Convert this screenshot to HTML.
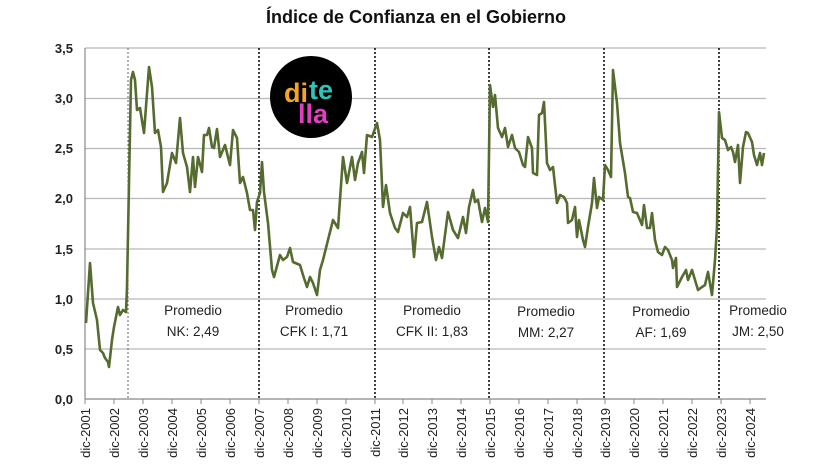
<!DOCTYPE html>
<html><head><meta charset="utf-8"><style>
html,body{margin:0;padding:0;background:#fff;}
svg{display:block;font-family:"Liberation Sans",sans-serif;}
</style></head><body>
<svg width="832" height="468" viewBox="0 0 832 468">
<text x="416" y="23" text-anchor="middle" font-size="18" font-weight="bold" fill="#111">Índice de Confianza en el Gobierno</text>
<g stroke="#b8b8b8" stroke-width="1.2">
<line x1="85" y1="48" x2="766" y2="48"/><line x1="85" y1="98.5" x2="766" y2="98.5"/>
<line x1="85" y1="148.5" x2="766" y2="148.5"/><line x1="85" y1="198.5" x2="766" y2="198.5"/>
<line x1="85" y1="249" x2="766" y2="249"/><line x1="85" y1="299" x2="766" y2="299"/>
<line x1="85" y1="349" x2="766" y2="349"/>
</g>
<g stroke="#888" stroke-width="1.2">
<line x1="85" y1="399" x2="766" y2="399"/><line x1="85" y1="48" x2="85" y2="399"/>
</g>
<g stroke="#888" stroke-width="1">
<line x1="85" y1="399" x2="85" y2="404"/><line x1="114" y1="399" x2="114" y2="404"/><line x1="143" y1="399" x2="143" y2="404"/><line x1="172" y1="399" x2="172" y2="404"/><line x1="201" y1="399" x2="201" y2="404"/><line x1="230" y1="399" x2="230" y2="404"/><line x1="259" y1="399" x2="259" y2="404"/><line x1="288" y1="399" x2="288" y2="404"/><line x1="317" y1="399" x2="317" y2="404"/><line x1="346" y1="399" x2="346" y2="404"/><line x1="375" y1="399" x2="375" y2="404"/><line x1="403" y1="399" x2="403" y2="404"/><line x1="432" y1="399" x2="432" y2="404"/><line x1="461" y1="399" x2="461" y2="404"/><line x1="490" y1="399" x2="490" y2="404"/><line x1="519" y1="399" x2="519" y2="404"/><line x1="548" y1="399" x2="548" y2="404"/><line x1="577" y1="399" x2="577" y2="404"/><line x1="605" y1="399" x2="605" y2="404"/><line x1="634" y1="399" x2="634" y2="404"/><line x1="663" y1="399" x2="663" y2="404"/><line x1="692" y1="399" x2="692" y2="404"/><line x1="721" y1="399" x2="721" y2="404"/><line x1="750" y1="399" x2="750" y2="404"/>
</g>
<g stroke-dasharray="2,2" fill="none">
<line x1="128" y1="48" x2="128" y2="399" stroke="#666" stroke-width="1"/>
<line x1="259" y1="48" x2="259" y2="399" stroke="#111" stroke-width="1.6"/>
<line x1="375" y1="48" x2="375" y2="399" stroke="#111" stroke-width="1.6"/>
<line x1="489" y1="48" x2="489" y2="399" stroke="#111" stroke-width="1.6"/>
<line x1="604" y1="48" x2="604" y2="399" stroke="#111" stroke-width="1.6"/>
<line x1="719" y1="48" x2="719" y2="399" stroke="#111" stroke-width="1.6"/>
</g>
<g font-size="13" font-weight="bold" fill="#222" text-anchor="end">
<text x="73" y="53">3,5</text><text x="73" y="103">3,0</text><text x="73" y="153">2,5</text><text x="73" y="203">2,0</text><text x="73" y="254">1,5</text><text x="73" y="304">1,0</text><text x="73" y="354">0,5</text><text x="73" y="404">0,0</text>
</g>
<g font-size="13" fill="#222" text-anchor="end">
<text transform="translate(90,408) rotate(-90)">dic-2001</text><text transform="translate(119,408) rotate(-90)">dic-2002</text><text transform="translate(148,408) rotate(-90)">dic-2003</text><text transform="translate(177,408) rotate(-90)">dic-2004</text><text transform="translate(206,408) rotate(-90)">dic-2005</text><text transform="translate(235,408) rotate(-90)">dic-2006</text><text transform="translate(264,408) rotate(-90)">dic-2007</text><text transform="translate(293,408) rotate(-90)">dic-2008</text><text transform="translate(322,408) rotate(-90)">dic-2009</text><text transform="translate(351,408) rotate(-90)">dic-2010</text><text transform="translate(380,408) rotate(-90)">dic-2011</text><text transform="translate(408,408) rotate(-90)">dic-2012</text><text transform="translate(437,408) rotate(-90)">dic-2013</text><text transform="translate(466,408) rotate(-90)">dic-2014</text><text transform="translate(495,408) rotate(-90)">dic-2015</text><text transform="translate(524,408) rotate(-90)">dic-2016</text><text transform="translate(553,408) rotate(-90)">dic-2017</text><text transform="translate(582,408) rotate(-90)">dic-2018</text><text transform="translate(610,408) rotate(-90)">dic-2019</text><text transform="translate(639,408) rotate(-90)">dic-2020</text><text transform="translate(668,408) rotate(-90)">dic-2021</text><text transform="translate(697,408) rotate(-90)">dic-2022</text><text transform="translate(726,408) rotate(-90)">dic-2023</text><text transform="translate(755,408) rotate(-90)">dic-2024</text>
</g>
<g font-size="13.5" fill="#222" text-anchor="middle">
<text x="193" y="315">Promedio</text><text x="193" y="336">NK: 2,49</text>
<text x="314" y="315">Promedio</text><text x="314" y="336">CFK I: 1,71</text>
<text x="432" y="315">Promedio</text><text x="432" y="336">CFK II: 1,83</text>
<text x="546" y="316">Promedio</text><text x="546" y="337">MM: 2,27</text>
<text x="661" y="316">Promedio</text><text x="661" y="337">AF: 1,69</text>
<text x="758" y="315">Promedio</text><text x="758" y="336">JM: 2,50</text>
</g>
<circle cx="311" cy="97" r="41" fill="#000"/>
<text x="284" y="102" font-size="27" font-weight="bold" fill="#f4a623">di</text>
<text x="309" y="99" font-size="27" font-weight="bold" fill="#2ec4b6">te</text>
<text x="298" y="123" font-size="27" font-weight="bold" fill="#e040c0">lla</text>
<polyline fill="none" stroke="#556b2f" stroke-width="2.6" stroke-linejoin="round" points="86,323 90,263 93,303 97,320 100,350 103,353 105,358 108,362 109,367 112,340 114,327 118,307 120,315 123,310 126,312 127,287 129,183 131,80 133,72 135,80 137,110 140,108 144,133 149,67 152,87 155,133 158,130 161,147 163,192 167,183 172,153 176,163 180,118 183,153 187,167 190,192 193,157 195,187 198,157 202,172 204,135 207,135 209,128 212,147 214,148 217,129 220,157 225,145 230,165 233,130 237,138 240,183 243,177 247,193 250,210 253,210 255,230 257,202 260,193 262,162 264,192 268,223 272,270 274,277 280,255 283,260 287,257 290,248 293,262 300,265 303,275 307,287 310,277 313,283 317,295 320,270 323,260 328,240 333,220 338,228 343,157 347,183 352,157 355,180 358,163 362,152 364,173 367,135 372,137 377,123 380,140 383,207 386,185 390,213 395,228 398,232 403,213 407,217 410,207 414,257 417,223 422,222 427,202 432,237 436,260 439,247 442,258 448,212 453,230 458,238 463,217 466,233 469,207 473,190 475,202 478,200 482,222 485,208 488,222 490,85 493,107 495,95 498,128 502,137 505,128 508,147 512,135 515,148 519,152 523,165 525,167 528,137 532,148 533,173 537,175 539,115 542,113 544,102 547,163 550,170 553,167 557,203 560,195 564,197 567,203 568,223 572,220 575,207 577,237 579,220 583,240 585,247 588,227 592,203 594,178 597,208 599,197 603,200 605,165 608,170 611,177 613,70 617,103 620,143 625,173 628,197 630,198 633,212 637,213 642,225 644,205 647,228 650,228 652,213 655,240 658,252 662,255 665,247 668,250 672,260 673,268 676,258 677,287 682,277 686,270 688,280 692,270 695,280 698,290 702,287 705,285 708,272 712,295 715,260 717,227 719,112 722,138 725,140 728,150 731,147 733,152 735,162 738,145 740,183 743,147 746,132 748,133 752,142 754,155 757,165 760,153 762,165 764,153"/>
</svg>
</body></html>
